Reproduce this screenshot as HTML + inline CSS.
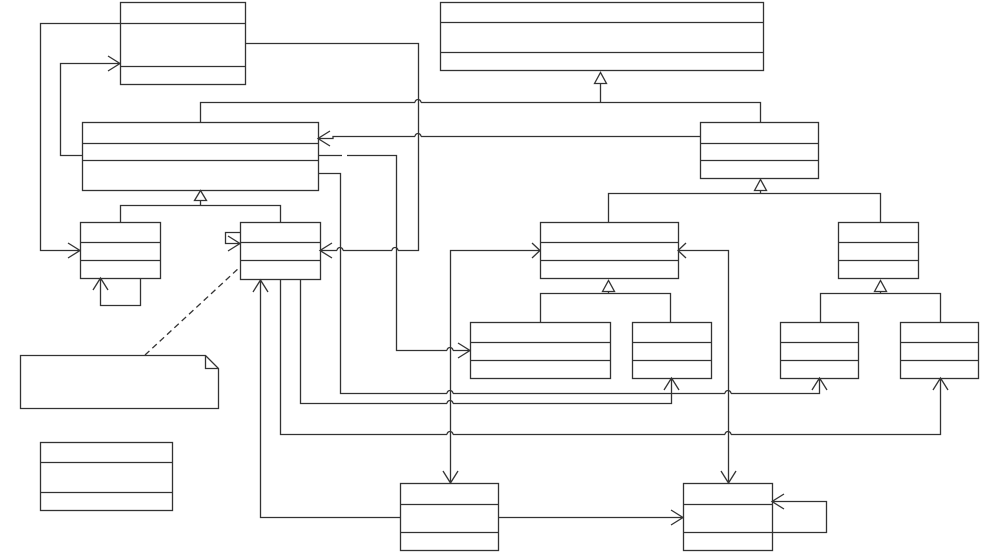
<!DOCTYPE html>
<html><head><meta charset="utf-8"><style>html,body{margin:0;padding:0;background:#fff}svg{display:block}</style></head>
<body>
<svg width="982" height="553" viewBox="0 0 982 553" xmlns="http://www.w3.org/2000/svg">
<g fill="none" stroke="#333" stroke-width="1.3">
<!-- boxes -->
<rect x="120.5" y="2.5" width="125" height="82"/><path d="M120 23.5H245M120 66.5H245"/>
<rect x="440.5" y="2.5" width="323" height="68"/><path d="M440 22.5H763M440 52.5H763"/>
<rect x="82.5" y="122.5" width="236" height="68"/><path d="M82 143.5H318M82 160.5H318"/>
<rect x="700.5" y="122.5" width="118" height="56"/><path d="M700 143.5H818M700 160.5H818"/>
<rect x="80.5" y="222.5" width="80" height="56"/><path d="M80 242.5H160M80 260.5H160"/>
<rect x="240.5" y="222.5" width="80" height="57"/><path d="M240 242.5H320M240 260.5H320"/>
<rect x="540.5" y="222.5" width="138" height="56"/><path d="M540 242.5H678M540 260.5H678"/>
<rect x="838.5" y="222.5" width="80" height="56"/><path d="M838 242.5H918M838 260.5H918"/>
<rect x="470.5" y="322.5" width="140" height="56"/><path d="M470 342.5H610M470 360.5H610"/>
<rect x="632.5" y="322.5" width="79" height="56"/><path d="M632 342.5H711M632 360.5H711"/>
<rect x="780.5" y="322.5" width="78" height="56"/><path d="M780 342.5H858M780 360.5H858"/>
<rect x="900.5" y="322.5" width="78" height="56"/><path d="M900 342.5H978M900 360.5H978"/>
<rect x="40.5" y="442.5" width="132" height="68"/><path d="M40 462.5H172M40 492.5H172"/>
<rect x="400.5" y="483.5" width="98" height="67"/><path d="M400 504.5H498M400 532.5H498"/>
<rect x="683.5" y="483.5" width="89" height="67"/><path d="M683 504.5H772M683 532.5H772"/>
<!-- note -->
<path d="M20.5 355.5H205.5L218.5 368.5V408.5H20.5Z"/><path d="M205.5 355.5V368.5H218.5"/>
<path d="M145 355L240 267" stroke-dasharray="6,4"/>
<!-- generalizations -->
<path d="M200.5 122V102.5H415M421 102.5H760.5V122M600.5 102.5V83"/>
<path d="M415 102.5a3 3 0 0 1 6 0"/>
<path d="M594.5 83.5L600.5 72.5L606.5 83.5Z" fill="#fff"/>
<path d="M120.5 222V205.5H280.5V222M200.5 205.5V200"/>
<path d="M194.5 200.5L200.5 190.5L206.5 200.5Z" fill="#fff"/>
<path d="M608.5 222V193.5H880.5V222M760.5 193.5V190"/>
<path d="M754.5 190.5L760.5 179.5L766.5 190.5Z" fill="#fff"/>
<path d="M540.5 322V293.5H670.5V322M608.5 293.5V291"/>
<path d="M602.5 291.5L608.5 280.5L614.5 291.5Z" fill="#fff"/>
<path d="M820.5 322V293.5H940.5V322M880.5 293.5V291"/>
<path d="M874.5 291.5L880.5 280.5L886.5 291.5Z" fill="#fff"/>
<!-- associations -->
<path d="M120 23.5H40.5V250.5H80M68 243L80 250.5L68 258"/>
<path d="M82 155.5H60.5V63.5H120M108 56L120 63.5L108 71"/>
<path d="M245 43.5H418.5V250.5H398M392 250.5H343M337 250.5H320M332 243L320 250.5L332 258"/>
<path d="M398 250.5a3 3 0 0 0 -6 0M343 250.5a3 3 0 0 0 -6 0"/>
<path d="M700 136.5H421M415 136.5H333V138.5H318M330 131L318 138.5L330 146"/>
<path d="M421 136.5a3 3 0 0 0 -6 0"/>
<path d="M318 155.5H342M347 155.5H396.5V350.5H447M453 350.5H470M458 343L470 350.5L458 358"/>
<path d="M453 350.5a3 3 0 0 0 -6 0"/>
<path d="M318 173.5H340.5V393.5H447M453 393.5H725M731 393.5H819.5V378M812 390L819.5 378L827 390"/>
<path d="M453 393.5a3 3 0 0 0 -6 0M731 393.5a3 3 0 0 0 -6 0"/>
<path d="M300.5 280V403.5H447M453 403.5H671.5V378M664 390L671.5 378L679 390"/>
<path d="M453 403.5a3 3 0 0 0 -6 0"/>
<path d="M280.5 280V434.5H447M453 434.5H725M731 434.5H940.5V378M933 390L940.5 378L948 390"/>
<path d="M453 434.5a3 3 0 0 0 -6 0M731 434.5a3 3 0 0 0 -6 0"/>
<path d="M260.5 280V517.5H400M253 292L260.5 280L268 292"/>
<path d="M498 517.5H683M671 510L683 517.5L671 525"/>
<path d="M540 250.5H450.5V483M443 471L450.5 483L458 471M532 243L540 250.5L532 258"/>
<path d="M678 250.5H728.5V483M721 471L728.5 483L736 471M686 243L678 250.5L686 258"/>
<path d="M772 532.5H826.5V501.5H772M784 494L772 501.5L784 509"/>
<path d="M100.5 278V305.5H140.5V278M93 290L100.5 278L108 290"/>
<path d="M240 232.5H225.5V243.5H240M228 236L240 243.5L228 251"/>
</g>
</svg>
</body></html>
